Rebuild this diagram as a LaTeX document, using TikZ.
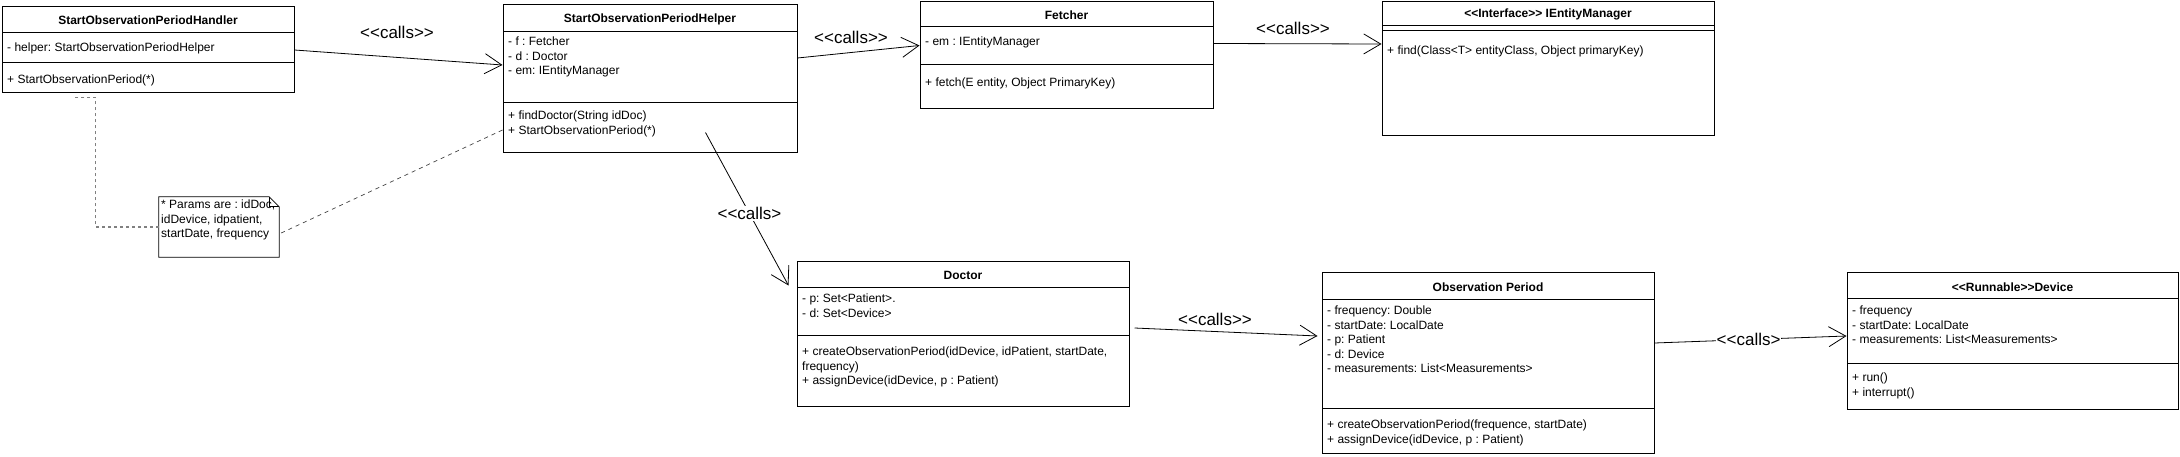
\documentclass[tikz,border=0pt]{standalone}
\usepackage{fontspec}
\setmainfont{Liberation Sans}[Ligatures = TeXOff]
\frenchspacing
\usetikzlibrary{positioning,calc,arrows.meta}
\tikzset{
  classbox/.style = {draw, line width = 1pt, inner sep = 0pt},
  classtitle/.style = {inner sep = 0pt, font = \fontsize{12}{14.5}\selectfont\bfseries},
  members/.style = {anchor = north west, align = left, inner sep = 0pt, font = \fontsize{12}{14.5}\selectfont, execute at begin node = \strut},
  calls/.style = {line width = .8pt, -{Straight Barb[length = 17pt, width = 20pt, line width = .8pt]}},
  callslabel/.style = {inner sep = 1pt, font = \fontsize{17}{20}\selectfont},
  notelink/.style = {line width = 1.2pt, gray, dash pattern = on 3pt off 3pt},
  notelinkthin/.style = {line width = .7pt, black!75, dash pattern = on 4pt off 4pt}
}
\begin{document}
\begin{tikzpicture}[x = 1pt, y = -1pt]
\useasboundingbox (0,0) rectangle (2180,457);

% class boxes
\node[classbox, minimum width = 292pt, minimum height = 86pt] (handler) at (148,50) {};
\node[classbox, minimum width = 294pt, minimum height = 148pt] (helper) at (650,79) {};
\node[classbox, minimum width = 293pt, minimum height = 107pt] (fetcher) at (1066.5,55.5) {};
\node[classbox, minimum width = 332pt, minimum height = 134pt] (entitymgr) at (1548,69) {};
\node[classbox, minimum width = 332pt, minimum height = 144pt] (doctor) at (963,334) {};
\node[classbox, minimum width = 332pt, minimum height = 180pt] (obsperiod) at (1488,363) {};
\node[classbox, minimum width = 331pt, minimum height = 136pt] (device) at (2012.5,341) {};

\draw[line width = 1pt] (2,33) -- (294,33) (2,63) -- (294,63);
\draw[line width = 1pt] (503,32) -- (797,32) (503,103) -- (797,103);
\draw[line width = 1pt] (920,27) -- (1213,27) (920,65) -- (1213,65);
\draw[line width = 1pt] (1382,26) -- (1714,26) (1382,31) -- (1714,31);
\draw[line width = 1pt] (797,287) -- (1129,287) (797,335) -- (1129,335);
\draw[line width = 1pt] (1322,299) -- (1654,299) (1322,408) -- (1654,408);
\draw[line width = 1pt] (1847,298) -- (2178,298) (1847,363) -- (2178,363);

% class texts
\node[classtitle] (handler-title) at (148,20) {StartObservationPeriodHandler};
\node[members] (handler-attr) at (7,41) {- helper: StartObservationPeriodHelper};
\node[members] (handler-ops) at (7,73) {+ StartObservationPeriod(*)};

\node[classtitle] (helper-title) at (650,19) {StartObservationPeriodHelper};
\node[members] (helper-attr) at (508,37) {- f : Fetcher\\- d : Doctor\\- em: IEntityManager};
\node[members] (helper-ops) at (508,111) {+ findDoctor(String idDoc)\\+ StartObservationPeriod(*)};

\node[classtitle] (fetcher-title) at (1066.5,15) {Fetcher};
\node[members] (fetcher-attr) at (925,35) {- em : IEntityManager};
\node[members] (fetcher-ops) at (925,76) {+ fetch(E entity, Object PrimaryKey)};

\node[classtitle] (entitymgr-title) at (1548,14) {<<Interface>> IEntityManager};
\node[members] (entitymgr-ops) at (1387,44) {+ find(Class<T> entityClass, Object primaryKey)};

\node[classtitle] (doctor-title) at (963,275) {Doctor};
\node[members] (doctor-attr) at (802,294) {- p: Set<Patient>.\\- d: Set<Device>};
\node[members] (doctor-ops) at (802,347) {+ createObservationPeriod(idDevice, idPatient, startDate,\\frequency)\\+ assignDevice(idDevice, p : Patient)};

\node[classtitle] (obsperiod-title) at (1488,287) {Observation Period};
\node[members] (obsperiod-attr) at (1327,306) {- frequency: Double\\- startDate: LocalDate\\- p: Patient\\- d: Device\\- measurements: List<Measurements>};
\node[members] (obsperiod-ops) at (1327,420) {+ createObservationPeriod(frequence, startDate)\\+ assignDevice(idDevice, p : Patient)};

\node[classtitle] (device-title) at (2012.5,287) {<<Runnable>>Device};
\node[members] (device-attr) at (1852,306) {- frequency\\- startDate: LocalDate\\- measurements: List<Measurements>};
\node[members] (device-ops) at (1852,373) {+ run()\\+ interrupt()};

% note
\node[minimum width = 120pt, minimum height = 60pt, inner sep = 0pt] (note) at (219,227) {};
\draw[line width = .8pt] (note.north west) -- ($(note.north east)+(-10,0)$) -- ($(note.north east)+(0,10)$) -- (note.south east) -- (note.south west) -- cycle;
\draw[line width = .6pt] ($(note.north east)+(-10,0)$) -- ($(note.north east)+(-10,10)$) -- ($(note.north east)+(0,10)$);
\node[members] (note-text) at (161,200) {* Params are : idDoc,\\idDevice, idpatient,\\startDate, frequency};

% connectors
\coordinate (helper-src) at ($(helper.south west)+(203,-21)$);
\coordinate (doctor-tip) at ($(doctor.north west)+(-8,24)$);

\draw[calls] (handler.east) -- ($(helper.west)+(0,-14)$);
\node[callslabel] (lbl-handler) at (397,32) {<<calls>>};
\draw[calls] ($(helper.east)+(0,-21)$) -- ($(fetcher.west)+(0,-10)$);
\node[callslabel] (lbl-helper) at (851,37) {<<calls>>};
\draw[calls] ($(fetcher.east)+(0,-12)$) -- ($(entitymgr.west)+(0,-25)$);
\node[callslabel] (lbl-fetcher) at (1293,28) {<<calls>>};
\draw[calls] (helper-src) -- node[pos = .53, callslabel, fill = white] (lbl-doc) {<<calls>} (doctor-tip);
\draw[calls] ($(doctor.east)+(5,-6)$) -- ($(obsperiod.west)+(-4,-27)$);
\node[callslabel] (lbl-doctor) at (1215,319) {<<calls>>};
\draw[calls] ($(obsperiod.east)+(0,-20)$) -- node[pos = .49, callslabel, fill = white] (lbl-obs) {<<calls>} ($(device.west)+(0,-5)$);

\draw[notelink] (note.west) -| ($(handler.south west)+(94,4)$) -- ($(handler.south west)+(73,4)$);
\draw[notelinkthin] ($(note.east)+(2,6)$) -- ($(helper.west)+(0,51)$);
\end{tikzpicture}
\end{document}
